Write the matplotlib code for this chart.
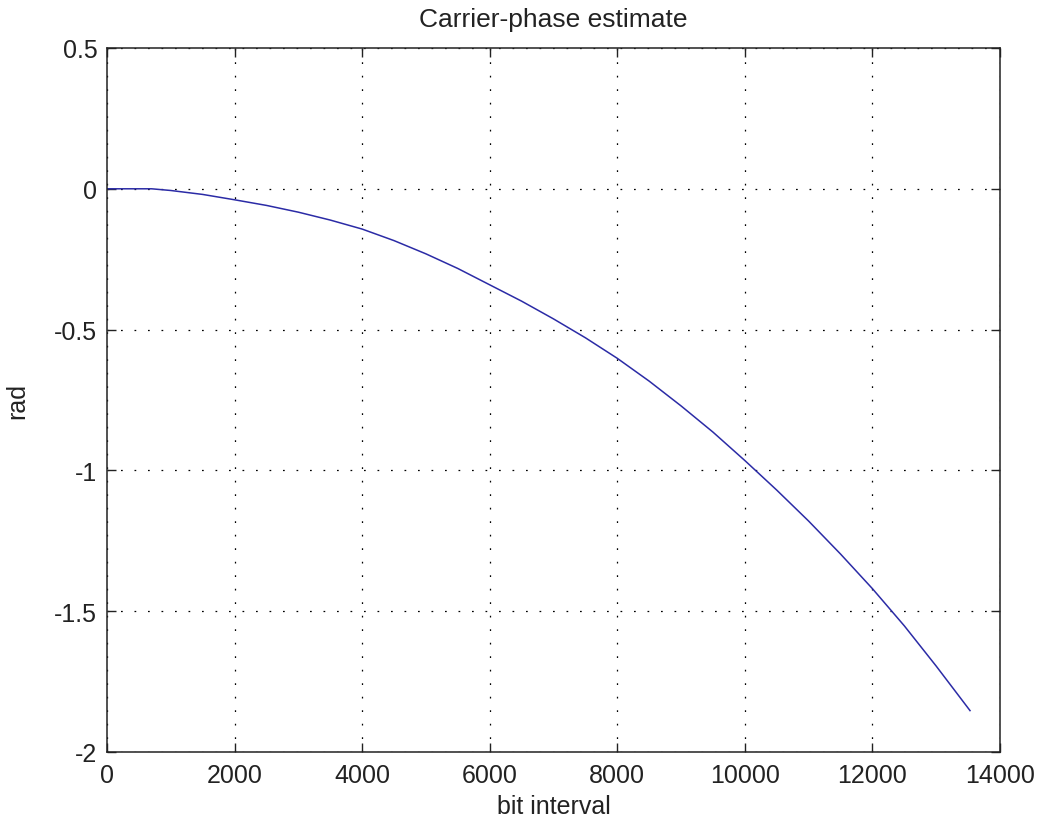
import matplotlib
matplotlib.use("Agg")
import matplotlib.pyplot as plt

# Data
bit_interval = [0, 700, 1000, 1500, 2000, 2500, 3000, 3500, 4000, 4500, 5000,
                5500, 6000, 6500, 7000, 7500, 8000, 8500, 9000, 9500, 10000,
                10500, 11000, 11500, 12000, 12500, 13000, 13530]
phase_rad = [0.0, 0.0, -0.006, -0.02, -0.039, -0.059, -0.083, -0.111, -0.143,
             -0.184, -0.231, -0.283, -0.341, -0.399, -0.462, -0.529, -0.602,
             -0.683, -0.771, -0.864, -0.965, -1.07, -1.18, -1.297, -1.42,
             -1.552, -1.695, -1.853]

title_text = "Carrier-phase estimate"
x_label = "bit interval"
y_label = "rad"
x_ticks = [0, 2000, 4000, 6000, 8000, 10000, 12000, 14000]
y_ticks = [-2, -1.5, -1, -0.5, 0, 0.5]
y_tick_labels = ["-2", "-1.5", "-1", "-0.5", "0", "0.5"]

plt.rcParams['font.family'] = ['Liberation Sans', 'DejaVu Sans']
fs = 18

fig = plt.figure(figsize=(10.43, 8.28), dpi=100)
ax = fig.add_axes([107/1043, 75/828, 893/1043, 704/828])

ax.plot(bit_interval, phase_rad, color='#2b2ba6', lw=1.1)

ax.set_xlim(0, 14000)
ax.set_ylim(-2, 0.5)
ax.set_xticks(x_ticks)
ax.set_xticklabels([str(t) for t in x_ticks])
ax.set_yticks(y_ticks)
ax.set_yticklabels(y_tick_labels)

ax.grid(True, color='black', linestyle=(0, (1.4, 9.4)), linewidth=0.9)
ax.tick_params(direction='in', length=6.5, width=1.0, top=True, right=True,
               labelsize=fs, colors='#222222')
ax.tick_params(axis='x', pad=8)
ax.tick_params(axis='y', pad=7)
for s in ax.spines.values():
    s.set_linewidth(1.1)
    s.set_color('#222222')

ax.set_title(title_text, fontsize=19, pad=16, color='#222222')
ax.set_xlabel(x_label, fontsize=fs, color='#222222', labelpad=5)
ax.set_ylabel(y_label, fontsize=fs, color='#222222', labelpad=18)

fig.savefig("out.png", dpi=100, facecolor='white')
